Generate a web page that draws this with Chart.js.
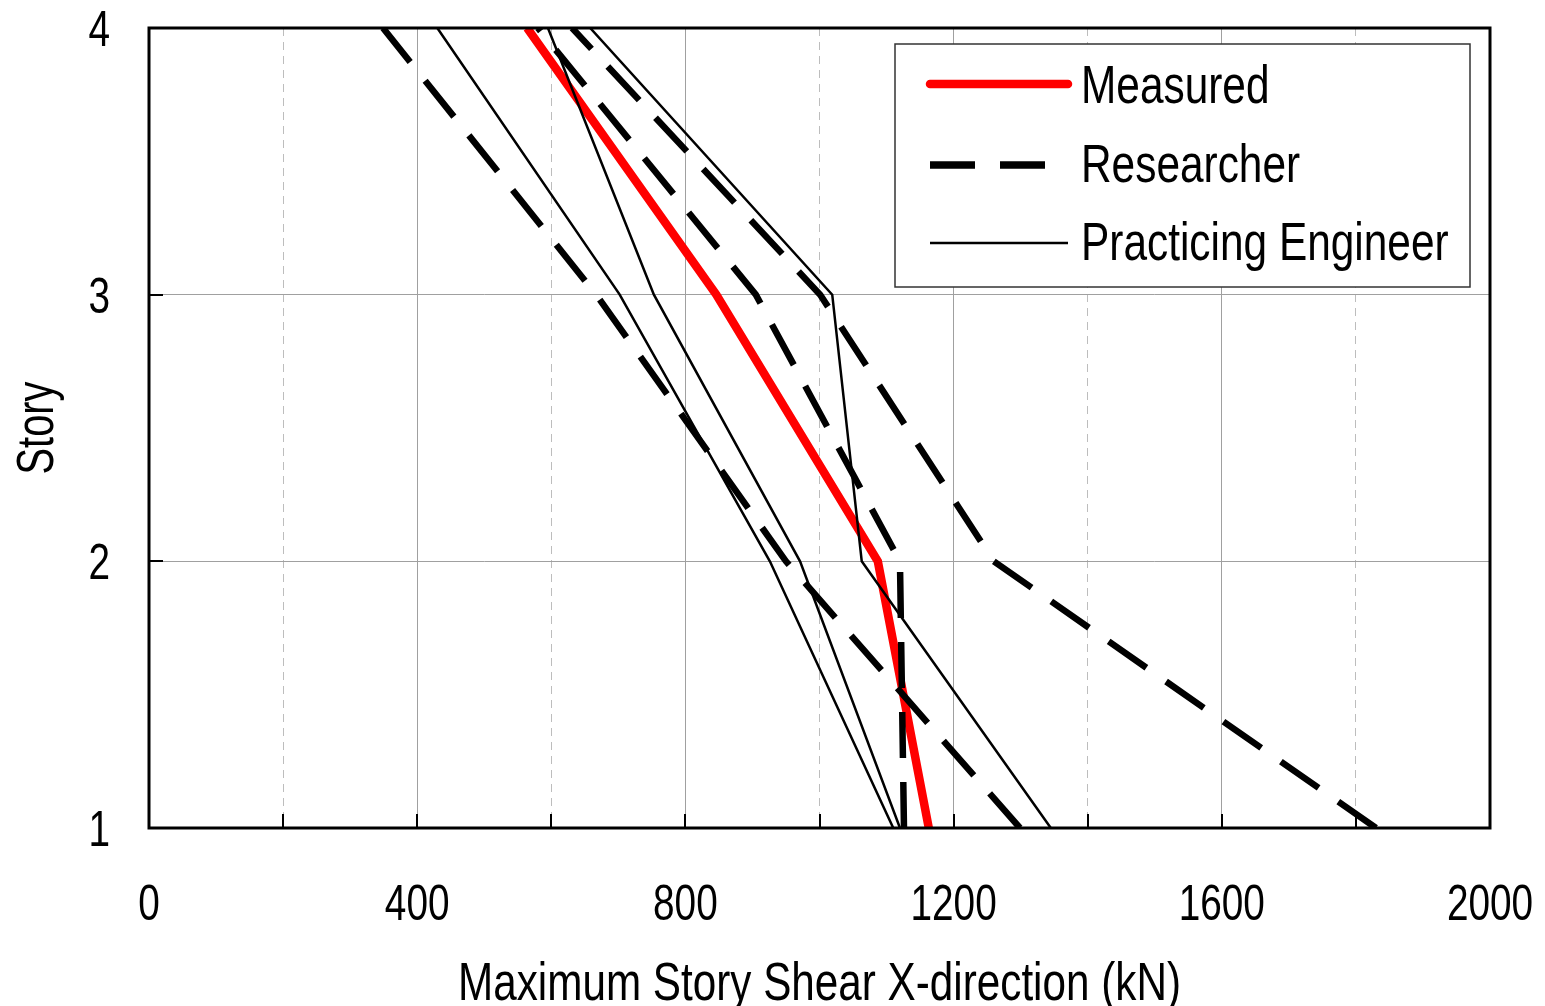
<!DOCTYPE html>
<html>
<head>
<meta charset="utf-8">
<title>Maximum Story Shear</title>
<script src="https://cdn.jsdelivr.net/npm/chart.js@4.4.1/dist/chart.umd.min.js"></script>
<style>
    html, body { margin: 0; padding: 0; background: #fff; }
    #wrap { width: 1545px; height: 1006px; }
</style>
</head>
<body>
<div id="wrap"><canvas id="shear" width="1545" height="1006"></canvas></div>
<script>
// story levels, bottom to top (dash pattern starts at the base)
const stories = [1, 2, 3, 4];

// story shear (kN)
const measured = [1163, 1087, 846, 564];
const researcherA = [1299, 950, 667, 349];
const researcherB = [1830, 1260, 1001, 631];
const researcherC = [1126, 1120, 905, 580];
const engineerA = [1110, 926, 702, 430];
const engineerB = [1120, 971, 753, 595];
const engineerC = [1345, 1063, 1019, 658];

const xTickLabels = ['0', '400', '800', '1200', '1600', '2000'];
const yTickLabels = ['1', '2', '3', '4'];
const xTitle = 'Maximum Story Shear X-direction (kN)';
const yTitle = 'Story';
const legendLabels = ['Measured', 'Researcher', 'Practicing Engineer'];

// narrow look: regular face squeezed horizontally
const FONT = "'Liberation Sans', Arial, sans-serif";

const styles = {
    measured: { borderColor: '#ff0000', borderWidth: 8.5, borderDash: [] },
    researcher: { borderColor: '#000000', borderWidth: 6.5, borderDash: [46, 24] },
    engineer: { borderColor: '#000000', borderWidth: 2.5, borderDash: [] }
};

function toPoints(values) {
    return values.map((v, i) => ({ x: v, y: stories[i] }));
}

function makeDataset(label, values, style, order) {
    return {
        label: label,
        data: toPoints(values),
        showLine: true,
        pointRadius: 0,
        tension: 0,
        borderColor: style.borderColor,
        borderWidth: style.borderWidth,
        borderDash: style.borderDash,
        borderCapStyle: 'butt',
        order: order
    };
}

function narrowText(ctx, text, x, y, opts) {
    ctx.save();
    ctx.translate(x, y);
    if (opts.rotate) ctx.rotate(opts.rotate);
    ctx.scale(opts.squeeze, 1);
    ctx.font = opts.size + 'px ' + FONT;
    ctx.fillStyle = '#000';
    ctx.textAlign = opts.align || 'center';
    ctx.textBaseline = 'alphabetic';
    ctx.fillText(text, 0, 0);
    ctx.restore();
}

// frame round the plot and the short inside ticks
const framePlugin = {
    id: 'frame',
    afterDraw(chart) {
        const { ctx, chartArea: a, scales } = chart;
        ctx.save();
        ctx.strokeStyle = '#000';
        ctx.lineWidth = 2;
        ctx.beginPath();
        scales.x.ticks.forEach((t) => {
            if (t.value <= 0 || t.value >= 2000) return;
            const px = Math.round(scales.x.getPixelForValue(t.value));
            ctx.moveTo(px, a.bottom);
            ctx.lineTo(px, a.bottom - 14);
        });
        scales.y.ticks.forEach((t) => {
            if (t.value <= 1 || t.value >= 4) return;
            const py = Math.round(scales.y.getPixelForValue(t.value));
            ctx.moveTo(a.left, py);
            ctx.lineTo(a.left + 14, py);
        });
        ctx.stroke();
        ctx.lineWidth = 3;
        ctx.strokeRect(a.left, a.top, a.right - a.left, a.bottom - a.top);
        ctx.restore();
    }
};

// tick labels and axis titles
const labelPlugin = {
    id: 'axisText',
    afterDraw(chart) {
        const { ctx, chartArea: a, scales } = chart;
        xTickLabels.forEach((t) => {
            narrowText(ctx, t, scales.x.getPixelForValue(Number(t)), a.bottom + 92, { size: 50, squeeze: 0.775 });
        });
        yTickLabels.forEach((t) => {
            narrowText(ctx, t, 110, scales.y.getPixelForValue(Number(t)) + 18, { size: 50, squeeze: 0.775, align: 'right' });
        });
        narrowText(ctx, xTitle, (a.left + a.right) / 2, 1000, { size: 53, squeeze: 0.797 });
        narrowText(ctx, yTitle, 53, (a.top + a.bottom) / 2, { size: 51, squeeze: 0.78, rotate: -Math.PI / 2 });
    }
};

// boxed legend in the upper right corner
const legendPlugin = {
    id: 'boxLegend',
    afterDraw(chart) {
        const { ctx } = chart;
        const box = { x: 895, y: 44, w: 575, h: 243 };
        const rows = [
            { style: styles.measured, y: 84, base: 103, cap: 'round', x2: 1068 },
            { style: styles.researcher, y: 165, base: 182, cap: 'butt', x2: 1045 },
            { style: styles.engineer, y: 243, base: 260, cap: 'butt', x2: 1068 }
        ];
        ctx.save();
        ctx.fillStyle = '#fff';
        ctx.fillRect(box.x, box.y, box.w, box.h);
        ctx.strokeStyle = '#333';
        ctx.lineWidth = 1.5;
        ctx.strokeRect(box.x, box.y, box.w, box.h);

        rows.forEach((r, i) => {
            ctx.beginPath();
            ctx.strokeStyle = r.style.borderColor;
            ctx.lineWidth = r.style.borderWidth + (i === 1 ? 1 : 0);
            ctx.lineCap = r.cap;
            ctx.setLineDash(r.style.borderDash.length ? [45, 25] : []);
            ctx.moveTo(930, r.y);
            ctx.lineTo(r.x2, r.y);
            ctx.stroke();
            ctx.setLineDash([]);
            narrowText(ctx, legendLabels[i], 1081, r.base, { size: 54, squeeze: 0.785, align: 'left' });
        });
        ctx.restore();
    }
};

const datasets = [
    makeDataset('Measured', measured, styles.measured, 1),
    makeDataset('Researcher', researcherA, styles.researcher, 0),
    makeDataset('Researcher', researcherB, styles.researcher, 0),
    makeDataset('Researcher', researcherC, styles.researcher, 0),
    makeDataset('Practicing Engineer', engineerA, styles.engineer, 0),
    makeDataset('Practicing Engineer', engineerB, styles.engineer, 0),
    makeDataset('Practicing Engineer', engineerC, styles.engineer, 0)
];

new Chart(document.getElementById('shear'), {
    type: 'scatter',
    data: { datasets: datasets },
    options: {
        responsive: false,
        animation: false,
        devicePixelRatio: 1,
        layout: { padding: { top: 28, right: 55, bottom: 0, left: 0 } },
        plugins: {
            legend: { display: false },
            tooltip: { enabled: false }
        },
        scales: {
            x: {
                type: 'linear',
                min: 0,
                max: 2000,
                afterFit: (scale) => { scale.height = 178; },
                ticks: { stepSize: 200, display: false },
                grid: {
                    drawTicks: false,
                    lineWidth: 1,
                    color: (c) => (c.tick && c.tick.value % 400 === 0 ? '#a0a0a0' : '#bdbdbd')
                },
                border: {
                    display: false,
                    dash: (c) => (c.tick && c.tick.value % 400 !== 0 ? [8, 6] : [])
                }
            },
            y: {
                type: 'linear',
                min: 1,
                max: 4,
                afterFit: (scale) => { scale.width = 149; },
                ticks: { stepSize: 1, display: false },
                grid: {
                    drawTicks: false,
                    lineWidth: 1,
                    color: '#a0a0a0'
                },
                border: { display: false }
            }
        }
    },
    plugins: [framePlugin, labelPlugin, legendPlugin]
});
</script>
</body>
</html>
